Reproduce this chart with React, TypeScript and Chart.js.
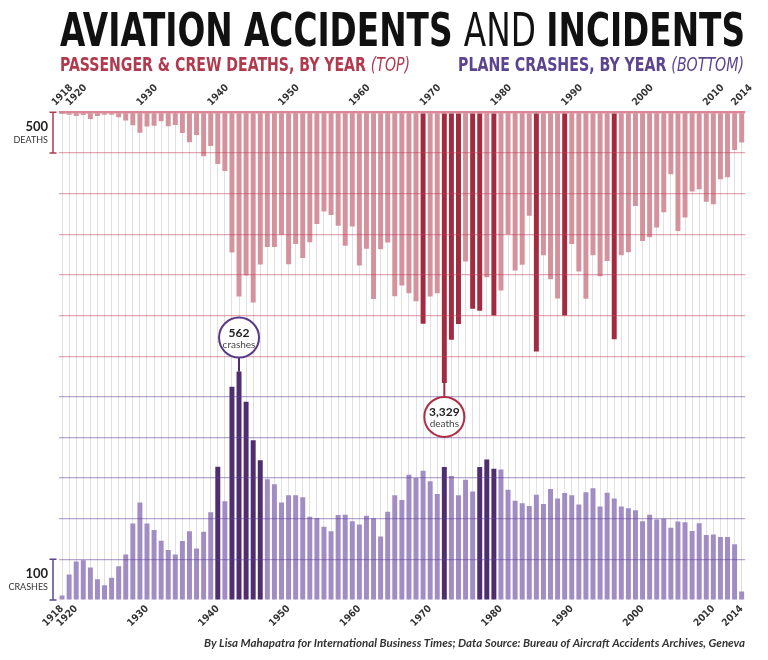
import { useEffect, useRef } from "react";
import { Chart, registerables } from "chart.js";

Chart.register(...registerables);

const years = [
  "1918", "1919", "1920", "1921", "1922", "1923", "1924", "1925", "1926", "1927",
  "1928", "1929", "1930", "1931", "1932", "1933", "1934", "1935", "1936", "1937",
  "1938", "1939", "1940", "1941", "1942", "1943", "1944", "1945", "1946", "1947",
  "1948", "1949", "1950", "1951", "1952", "1953", "1954", "1955", "1956", "1957",
  "1958", "1959", "1960", "1961", "1962", "1963", "1964", "1965", "1966", "1967",
  "1968", "1969", "1970", "1971", "1972", "1973", "1974", "1975", "1976", "1977",
  "1978", "1979", "1980", "1981", "1982", "1983", "1984", "1985", "1986", "1987",
  "1988", "1989", "1990", "1991", "1992", "1993", "1994", "1995", "1996", "1997",
  "1998", "1999", "2000", "2001", "2002", "2003", "2004", "2005", "2006", "2007",
  "2008", "2009", "2010", "2011", "2012", "2013", "2014",
];

const deaths = [
  4, 29, 45, 33, 82, 45, 29, 29, 61, 102,
  158, 252, 176, 164, 111, 172, 156, 254, 369, 279,
  540, 416, 637, 721, 1725, 2266, 2008, 2340, 1873, 1658,
  1658, 1505, 1869, 1619, 1791, 1598, 1373, 1219, 1262, 1397,
  1643, 1405, 1885, 1680, 2297, 1684, 1602, 2262, 2131, 2225,
  2324, 2602, 2266, 2225, 3329, 2799, 2606, 1836, 2418, 2442,
  2028, 2500, 2192, 1500, 1947, 1877, 1274, 2942, 1758, 2053,
  2291, 2500, 1619, 1959, 2295, 1758, 2016, 1828, 2791, 1758,
  1721, 1152, 1582, 1537, 1418, 1229, 762, 1459, 1295, 975,
  947, 1102, 1131, 824, 799, 463, 373,
];

const crashes = [
  11, 63, 95, 98, 80, 51, 36, 55, 83, 112,
  188, 240, 188, 172, 146, 123, 112, 145, 169, 127,
  168, 216, 328, 243, 525, 562, 488, 393, 344, 297,
  285, 240, 258, 258, 253, 205, 202, 180, 169, 209,
  210, 194, 186, 207, 201, 156, 217, 258, 246, 308,
  300, 318, 292, 261, 327, 305, 258, 296, 267, 327,
  346, 323, 321, 271, 244, 238, 231, 259, 236, 273,
  250, 263, 258, 235, 265, 275, 230, 264, 250, 230,
  226, 221, 194, 210, 198, 200, 178, 193, 191, 170,
  189, 160, 161, 155, 155, 137, 21,
];

const deathHighlightYears = ["1969", "1972", "1973", "1974", "1976", "1977", "1979", "1985", "1989", "1996"];
const crashHighlightYears = ["1940", "1942", "1943", "1944", "1945", "1946", "1972", "1977", "1978", "1979"];
const tickYears = ["1918", "1920", "1930", "1940", "1950", "1960", "1970", "1980", "1990", "2000", "2010", "2014"];

const deathAxisMax = 6000;
const deathStep = 500;
const deathGridMax = 3000;
const crashAxisMax = 1200;
const crashStep = 100;
const crashGridMax = 500;

const deathAnnotationYear = "1972";
const crashAnnotationYear = "1943";

const PINK = "#d4929d";
const DARK_RED = "#a22b40";
const LIGHT_PURPLE = "#a18cc3";
const DARK_PURPLE = "#4e2e6e";
const RED_TEXT = "#b23a4e";
const PURPLE_TEXT = "#5c4490";

const NARROW = "'Liberation Sans Narrow', 'DejaVu Sans Condensed', 'Roboto', sans-serif";
const HUMAN = "'Lato', 'Open Sans', sans-serif";

type Seg = { text: string; font: string; color: string };

function drawSegs(ctx: CanvasRenderingContext2D, segs: Seg[], x: number, y: number, width: number) {
  let total = 0;
  const ws = segs.map((s) => {
    ctx.font = s.font;
    const w = ctx.measureText(s.text).width;
    total += w;
    return w;
  });
  const sx = width / total;
  ctx.save();
  ctx.translate(x, y);
  ctx.scale(sx, 1);
  ctx.textAlign = "left";
  ctx.textBaseline = "alphabetic";
  let cx = 0;
  segs.forEach((s, i) => {
    ctx.font = s.font;
    ctx.fillStyle = s.color;
    ctx.fillText(s.text, cx, 0);
    cx += ws[i];
  });
  ctx.restore();
}

function bracket(ctx: CanvasRenderingContext2D, x: number, y1: number, y2: number, color: string) {
  ctx.save();
  ctx.strokeStyle = color;
  ctx.lineWidth = 1.5;
  ctx.beginPath();
  ctx.moveTo(x, y1);
  ctx.lineTo(x, y2);
  ctx.moveTo(x - 3.5, y1);
  ctx.lineTo(x + 3.5, y1);
  ctx.moveTo(x - 3.5, y2);
  ctx.lineTo(x + 3.5, y2);
  ctx.stroke();
  ctx.restore();
}

function bubble(
  ctx: CanvasRenderingContext2D,
  cx: number,
  cy: number,
  r: number,
  color: string,
  big: string,
  small: string
) {
  ctx.save();
  ctx.beginPath();
  ctx.arc(cx, cy, r, 0, Math.PI * 2);
  ctx.fillStyle = "#ffffff";
  ctx.fill();
  ctx.lineWidth = 2;
  ctx.strokeStyle = color;
  ctx.stroke();
  ctx.textAlign = "center";
  ctx.textBaseline = "alphabetic";
  ctx.fillStyle = "#222";
  ctx.font = `bold 12px ${HUMAN}`;
  ctx.fillText(big, cx, cy - 0.5);
  ctx.fillStyle = "#444";
  ctx.font = `10px ${HUMAN}`;
  ctx.fillText(small, cx, cy + 10);
  ctx.restore();
}

const decorPlugin = {
  id: "decor",
  afterDraw(chart: any) {
    const ctx: CanvasRenderingContext2D = chart.ctx;
    const xs = chart.scales.x;
    const yd = chart.scales.yd;
    const yc = chart.scales.yc;

    // Title
    drawSegs(
      ctx,
      [
        { text: "AVIATION ACCIDENTS ", font: `bold 46px ${NARROW}`, color: "#111" },
        { text: "AND ", font: `46px ${NARROW}`, color: "#111" },
        { text: "INCIDENTS", font: `bold 46px ${NARROW}`, color: "#111" },
      ],
      60,
      46,
      685
    );
    // Subtitles
    drawSegs(
      ctx,
      [
        { text: "PASSENGER & CREW DEATHS, BY YEAR ", font: `bold 19px ${NARROW}`, color: RED_TEXT },
        { text: "(TOP)", font: `italic 19px ${NARROW}`, color: RED_TEXT },
      ],
      60,
      71,
      350
    );
    drawSegs(
      ctx,
      [
        { text: "PLANE CRASHES, BY YEAR ", font: `bold 19px ${NARROW}`, color: PURPLE_TEXT },
        { text: "(BOTTOM)", font: `italic 19px ${NARROW}`, color: PURPLE_TEXT },
      ],
      458,
      71,
      286
    );
    // Footer
    drawSegs(
      ctx,
      [
        {
          text: "By Lisa Mahapatra for International Business Times; Data Source: Bureau of Aircraft Accidents Archives, Geneva",
          font: `italic bold 11px ${HUMAN}`,
          color: "#333",
        },
      ],
      204,
      647,
      541
    );

    // Scale brackets
    const d0 = yd.getPixelForValue(0);
    const d1 = yd.getPixelForValue(deathStep);
    bracket(ctx, 53, d0, d1, RED_TEXT);
    const c0 = yc.getPixelForValue(0);
    const c1 = yc.getPixelForValue(crashStep);
    bracket(ctx, 53, c1, c0, PURPLE_TEXT);

    ctx.save();
    ctx.textAlign = "right";
    ctx.fillStyle = "#222";
    ctx.font = `bold 13px ${HUMAN}`;
    ctx.fillText(String(deathStep), 48, d0 + 19);
    ctx.fillText(String(crashStep), 48, c1 + 19);
    ctx.fillStyle = "#333";
    ctx.font = `9px ${HUMAN}`;
    ctx.fillText("DEATHS", 48, d0 + 31);
    ctx.fillText("CRASHES", 48, c1 + 31);
    ctx.restore();

    // Annotations
    const ci = years.indexOf(crashAnnotationYear);
    const cx = xs.getPixelForValue(ci);
    const cTop = yc.getPixelForValue(crashes[ci]);
    const cy = cTop - 34;
    ctx.save();
    ctx.strokeStyle = DARK_PURPLE;
    ctx.lineWidth = 2;
    ctx.beginPath();
    ctx.moveTo(cx, cTop);
    ctx.lineTo(cx, cy + 20);
    ctx.stroke();
    ctx.restore();
    bubble(ctx, cx, cy, 20, "#5a3a86", crashes[ci].toLocaleString("en-US"), "crashes");

    const di = years.indexOf(deathAnnotationYear);
    const dx = xs.getPixelForValue(di);
    const dBot = yd.getPixelForValue(deaths[di]);
    const dy = dBot + 34;
    ctx.save();
    ctx.strokeStyle = DARK_RED;
    ctx.lineWidth = 2;
    ctx.beginPath();
    ctx.moveTo(dx, dBot);
    ctx.lineTo(dx, dy - 20);
    ctx.stroke();
    ctx.restore();
    bubble(ctx, dx, dy, 20, "#b02e44", deaths[di].toLocaleString("en-US"), "deaths");
  },
};

export default function App() {
  const ref = useRef<HTMLCanvasElement | null>(null);

  useEffect(() => {
    if (!ref.current) return;
    const deathColors = years.map((y) => (deathHighlightYears.includes(y) ? DARK_RED : PINK));
    const crashColors = years.map((y) => (crashHighlightYears.includes(y) ? DARK_PURPLE : LIGHT_PURPLE));
    const tickCb = function (this: any, _v: any, index: number) {
      const lab = years[index];
      return tickYears.includes(lab) ? lab : "";
    };
    const chart = new Chart(ref.current, {
      type: "bar",
      data: {
        labels: years,
        datasets: [
          {
            label: "Deaths",
            data: deaths,
            xAxisID: "x",
            yAxisID: "yd",
            backgroundColor: deathColors,
            borderWidth: 0,
            grouped: false,
            barPercentage: 0.7,
            categoryPercentage: 1,
          } as any,
          {
            label: "Crashes",
            data: crashes,
            xAxisID: "x",
            yAxisID: "yc",
            backgroundColor: crashColors,
            borderWidth: 0,
            grouped: false,
            barPercentage: 0.7,
            categoryPercentage: 1,
          } as any,
        ],
      },
      options: {
        responsive: false,
        animation: false,
        events: [],
        layout: { padding: { left: 58.5, right: 22.8, top: 0, bottom: 0 } },
        plugins: { legend: { display: false }, tooltip: { enabled: false }, title: { display: false } },
        scales: {
          x: {
            type: "category",
            position: "bottom",
            offset: true,
            grid: { display: true, offset: false, color: "#e0e0e0", lineWidth: 1, drawTicks: false },
            border: { display: false },
            ticks: {
              autoSkip: false,
              minRotation: 45,
              maxRotation: 45,
              padding: 3,
              color: "#333",
              font: { family: NARROW, size: 10, weight: "bold" },
              callback: tickCb,
            },
            afterFit: (s: any) => {
              s.height = 60;
            },
          },
          xt: {
            type: "category",
            position: "top",
            offset: true,
            grid: { display: false, drawTicks: false },
            border: { display: false },
            ticks: {
              autoSkip: false,
              minRotation: 45,
              maxRotation: 45,
              padding: 4,
              color: "#333",
              font: { family: NARROW, size: 10, weight: "bold" },
              callback: tickCb,
            },
            afterFit: (s: any) => {
              s.height = 112.3;
            },
          },
          yd: {
            type: "linear",
            position: "left",
            reverse: true,
            min: 0,
            max: deathAxisMax,
            ticks: { display: false, stepSize: deathStep },
            border: { display: false },
            grid: {
              z: 1,
              drawTicks: false,
              color: (c: any) => {
                const v = c.tick ? c.tick.value : -1;
                if (v === 0) return "rgba(205, 95, 115, 0.75)";
                if (v > 0 && v <= deathGridMax) return "rgba(195, 60, 85, 0.45)";
                return "rgba(0,0,0,0)";
              },
              lineWidth: (c: any) => (c.tick && c.tick.value === 0 ? 2.5 : 1.2),
            },
            afterFit: (s: any) => {
              s.width = 0;
            },
          },
          yc: {
            type: "linear",
            position: "left",
            min: 0,
            max: crashAxisMax,
            ticks: { display: false, stepSize: crashStep },
            border: { display: false },
            grid: {
              z: 1,
              drawTicks: false,
              color: (c: any) => {
                const v = c.tick ? c.tick.value : -1;
                if (v > 0 && v <= crashGridMax) return "rgba(95, 60, 150, 0.45)";
                return "rgba(0,0,0,0)";
              },
              lineWidth: 1.2,
            },
            afterFit: (s: any) => {
              s.width = 0;
            },
          },
        },
      } as any,
      plugins: [decorPlugin],
    });
    return () => chart.destroy();
  }, []);

  return (
    <div style={{ position: "absolute", left: 0, top: 0, width: 768, height: 660, background: "#fff" }}>
      <canvas ref={ref} width={768} height={660} style={{ width: 768, height: 660, display: "block" }} />
    </div>
  );
}
